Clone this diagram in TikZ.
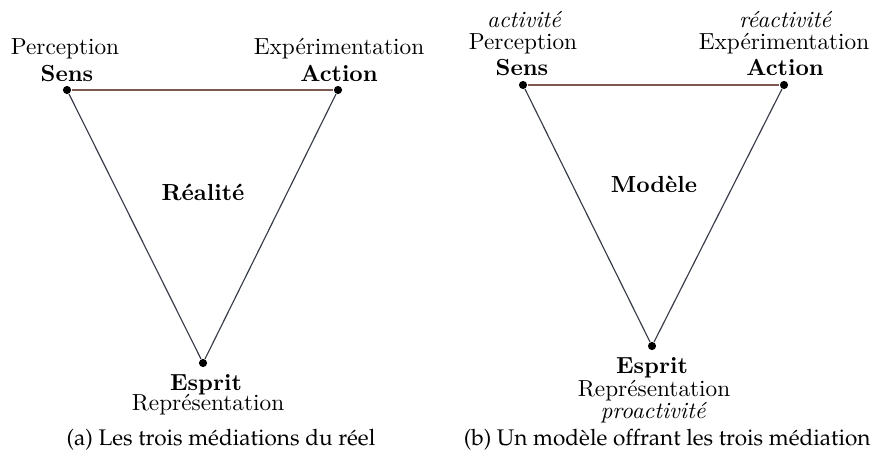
\documentclass[tikz,border=0pt]{standalone}
\usepackage[T1,TU]{fontenc}
\definecolor{topc}{RGB}{125,88,78}
\definecolor{sidec}{RGB}{55,60,72}
\begin{document}
\begin{tikzpicture}[x=0.43pt,y=-0.43pt,
  vertex/.style={circle,fill=black,inner sep=0pt,minimum size=3.5pt},
  lbl/.style={inner sep=0pt,anchor=base},
  hd/.style={lbl,font=\bfseries},
  kw/.style={lbl,font=\itshape},
  topedge/.style={draw=topc,line width=0.55pt},
  sideedge/.style={draw=sidec,line width=0.5pt},
  captext/.style={inner sep=0pt,font=\fontencoding{T1}\fontfamily{ppl}\fontsize{9.7}{12}\selectfont}]
\useasboundingbox (0,0) rectangle (872,469);

% --- (a) the three mediations of the real
\node[vertex] (s1) at (67,90) {};
\node[vertex] (a1) at (338,90) {};
\node[vertex] (e1) at (203,363) {};
\draw[sideedge] (s1) -- (e1) -- (a1);
\draw[topedge] (s1) -- (a1);
\node[lbl] (s1p) at (65,55) {Perception};
\node[hd]  (s1n) at (67,82) {Sens};
\node[lbl] (a1p) at (339,55) {Exp\'erimentation};
\node[hd]  (a1n) at (339,82) {Action};
\node[hd]  (e1n) at (206,390) {Esprit};
\node[lbl] (e1r) at (208,410) {Repr\'esentation};
\node[hd]  (r1)  at (203,201) {R\'ealit\'e};
\node[captext,anchor=base] (capa) at (221,445) {(a) Les trois m\'ediations du r\'eel};

% --- (b) a model offering the three mediations
\node[vertex] (s2) at (523,85) {};
\node[vertex] (a2) at (784,85) {};
\node[vertex] (e2) at (652,346) {};
\draw[sideedge] (s2) -- (e2) -- (a2);
\draw[topedge] (s2) -- (a2);
\node[kw]  (s2k) at (524,28) {activit\'e};
\node[lbl] (s2p) at (523,50) {Perception};
\node[hd]  (s2n) at (522,76) {Sens};
\node[kw]  (a2k) at (785,28) {r\'eactivit\'e};
\node[lbl] (a2p) at (784,50) {Exp\'erimentation};
\node[hd]  (a2n) at (785,76) {Action};
\node[hd]  (e2n) at (652,373) {Esprit};
\node[lbl] (e2r) at (654,396) {Repr\'esentation};
\node[kw]  (e2k) at (653,418) {proactivit\'e};
\node[hd]  (m2)  at (654,193) {Mod\`ele};
\node[captext,anchor=base east] (capb) at (871,445) {(b) Un mod\`ele offrant les trois m\'ediation};
\end{tikzpicture}
\end{document}
